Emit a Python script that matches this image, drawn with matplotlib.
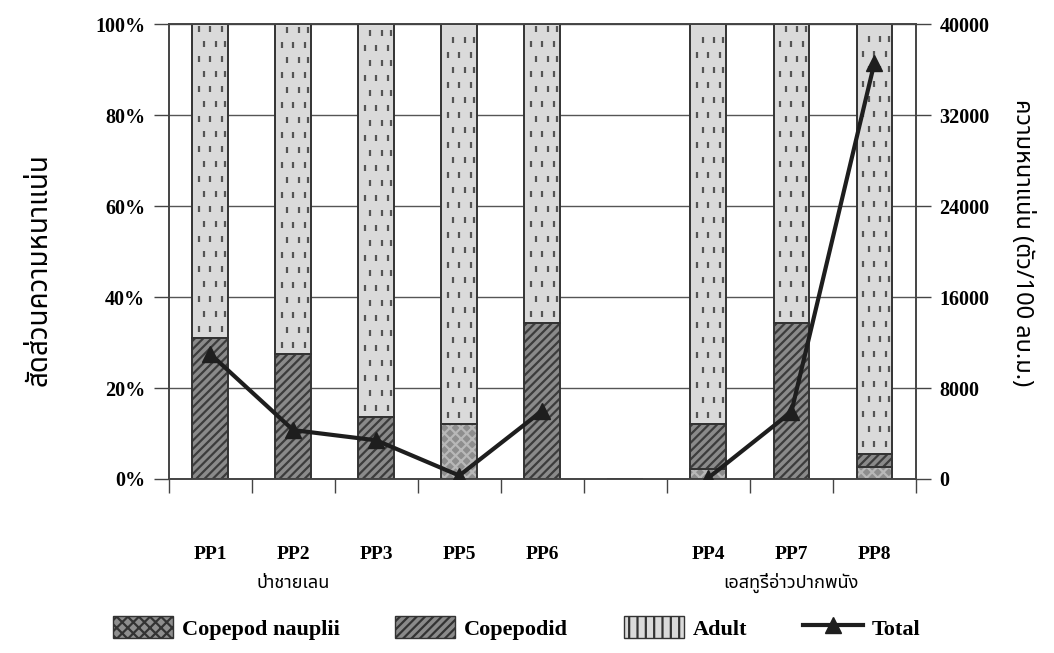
import numpy as np
import matplotlib.pyplot as plt
from matplotlib.lines import Line2D
from matplotlib.patches import Patch

plt.rcParams['hatch.linewidth'] = 1.6

# stations in plot order, '' is the empty slot between the two areas
stations = ['PP1', 'PP2', 'PP3', 'PP5', 'PP6', '', 'PP4', 'PP7', 'PP8']
# percentage of each stage
nauplii = [0, 0, 0, 12, 0, np.nan, 2.2, 0, 2.6]
copepodid = [31, 27.5, 13.6, 0, 34.3, np.nan, 9.8, 34.2, 3]
adult = [100 - n - c for n, c in zip(nauplii, copepodid)]
# total density (ind./100 m3)
total = [11000, 4300, 3400, 300, 6000, np.nan, 100, 5900, 36600]
areas = ['ป่าชายเลน', 'เอสทูรี่อ่าวปากพนัง']
area_center = ['PP2', 'PP7']

serif = ['Liberation Serif', 'DejaVu Serif']
thai = ['Noto Sans Thai', 'Noto Serif Thai', 'Loma', 'Garuda', 'Norasi',
        'TlwgTypo', 'Waree', 'DejaVu Sans']

x = np.arange(len(stations))
w = 0.43
naup = np.nan_to_num(nauplii)
cope = np.nan_to_num(copepodid)
adu = np.nan_to_num(adult)

fig = plt.figure(figsize=(10.54, 6.53), dpi=100)
ax = fig.add_axes([0.160, 0.2665, 0.709, 0.6965])
ax2 = ax.twinx()

ax.set_axisbelow(True)
ax.yaxis.grid(True, color='#555555', lw=1.0)

# stacked bars: fill with hatch, then outline
segments = [
    (naup, 0, '#8e8e8e', 'xxx', '#b8b8b8'),
    (cope, naup, '#8a8a8a', '////', '#3c3c3c'),
    (adu, naup + cope, '#dadada', '', '#dadada'),
]
for vals, bottom, face, hatch, hcol in segments:
    ax.bar(x, vals, w, bottom=bottom, color=face, hatch=hatch,
           edgecolor=hcol, lw=0, zorder=2)
    ax.bar(x, vals, w, bottom=bottom, fill=False, edgecolor='#333333',
           lw=1.4, zorder=3)

# short dashes of the adult fill
for xi, lo, h in zip(x, naup + cope, adu):
    if h <= 0:
        continue
    rows = np.arange(lo + 2.0, 99.5, 3.3)
    for k, yr in enumerate(rows):
        offs = [-0.14, 0.0, 0.14] if k % 2 == 0 else [-0.07, 0.07, 0.18]
        ax.plot([xi + o for o in offs], [yr] * len(offs), ls='none',
                marker='|', ms=5, mew=1.6, color='#555555', zorder=2.5)

ax2.plot(x, total, color='#1e1e1e', lw=3, marker='^', ms=11, zorder=5)

ax.set_xlim(-0.5, len(stations) - 0.5)
ax.set_ylim(0, 100)
ax2.set_ylim(0, 40000)
ax.set_yticks(np.arange(0, 101, 20))
ax.set_yticklabels([f'{v}%' for v in range(0, 101, 20)])
ax2.set_yticks(np.arange(0, 40001, 8000))

ax.set_xticks(np.arange(len(stations) + 1) - 0.5)
ax.set_xticklabels([])
ax.tick_params(axis='x', length=10, width=1, color='#444444', direction='out')
ax.tick_params(axis='y', length=11, width=1, color='#444444', pad=6)
ax2.tick_params(axis='y', length=11, width=1, color='#444444', pad=6)
for a in (ax, ax2):
    for lab in a.get_yticklabels():
        lab.set_family(serif)
        lab.set_fontweight('bold')
        lab.set_fontsize(14.5)
    for s in a.spines.values():
        s.set_color('#444444')
        s.set_linewidth(1.2)

for xi, name in zip(x, stations):
    ax.text(xi, -16.5, name, ha='center', va='center', family=serif,
            fontweight='bold', fontsize=14)
for name, st in zip(areas, area_center):
    ax.text(stations.index(st), -22.8, name, ha='center', va='center',
            family=thai, fontsize=13)

ax.set_ylabel('สัดส่วนความหนาแน่น', family=thai, fontweight='bold',
              fontsize=20, va='center')
ax.yaxis.set_label_coords(-0.173, 0.46)
ax2.set_ylabel('ความหนาแน่น (ตัว/100 ลบ.ม.)', family=thai, fontweight='bold',
               fontsize=17, rotation=270, va='center')
ax2.yaxis.set_label_coords(1.142, 0.52)

handles = [
    Patch(facecolor='#8e8e8e', edgecolor='#333333', hatch='xxx'),
    Patch(facecolor='#8a8a8a', edgecolor='#333333', hatch='////'),
    Patch(facecolor='#dadada', edgecolor='#333333', hatch='||'),
    Line2D([], [], color='#1e1e1e', lw=3, marker='^', ms=11),
]
fig.legend(handles, ['Copepod nauplii', 'Copepodid', 'Adult', 'Total'],
           loc='lower center', bbox_to_anchor=(0.49, -0.01), ncol=4,
           frameon=False, handlelength=2.7, handleheight=1.1,
           handletextpad=0.4, columnspacing=2.5,
           prop={'family': serif, 'weight': 'bold', 'size': 16})

fig.savefig('out.png', dpi=100, facecolor='white')
